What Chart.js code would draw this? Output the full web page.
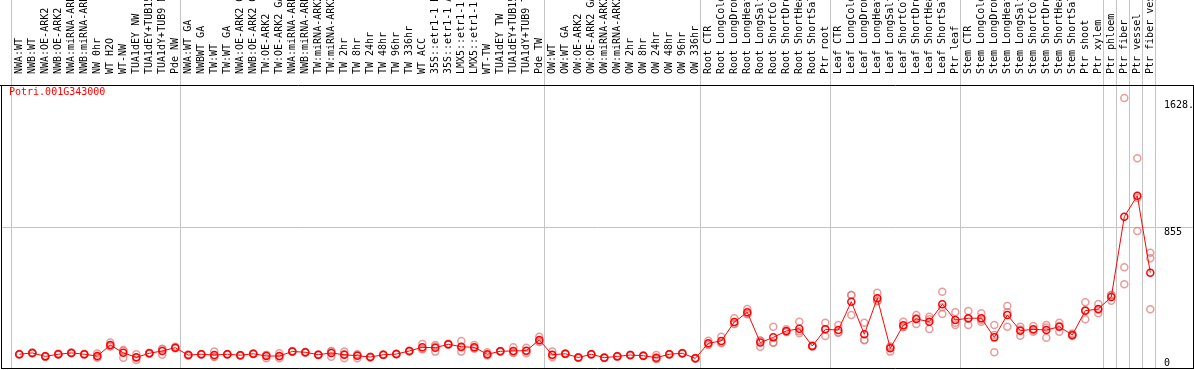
<!DOCTYPE html>
<html><head><meta charset="utf-8">
<script src="https://cdn.jsdelivr.net/npm/chart.js@4.4.1/dist/chart.umd.min.js"></script>
<style>html,body{margin:0;padding:0;background:#fff;overflow:hidden}#wrap{width:1194px;height:370px;position:relative}</style>
</head><body><div id="wrap"><canvas id="c" width="1194" height="370"></canvas></div>
<script>
const categories = [
 'NWA:WT','NWB:WT','NWA:OE-ARK2','NWB:OE-ARK2','NWA:miRNA-ARK2','NWB:miRNA-ARK2','NW 0hr','WT H2O','WT-NW','TUA1dEY NW','TUA1dEY+TUB15 NW','TUA1dY+TUB9 NW','Pde NW',
 'NWA:WT GA','NWBWT GA','TW:WT','TW:WT GA','NWA:OE-ARK2 GA','NWB:OE-ARK2 GA','TW:OE-ARK2','TW:OE-ARK2 GA','NWA:miRNA-ARK2','NWB:miRNA-ARK2','TW:miRNA-ARK2','TW:miRNA-ARK2','TW 2hr','TW 8hr','TW 24hr','TW 48hr','TW 96hr','TW 336hr','WT ACC','35S::etr1-1 H2O','35S::etr1-1 ACC','LMX5::etr1-1 H2O','LMX5::etr1-1 ACC','WT-TW','TUA1dEY TW','TUA1dEY+TUB15 TW','TUA1dY+TUB9 TW','Pde TW',
 'OW:WT','OW:WT GA','OW:OE-ARK2','OW:OE-ARK2 GA','OW:miRNA-ARK2','OW:miRNA-ARK2','OW 2hr','OW 8hr','OW 24hr','OW 48hr','OW 96hr','OW 336hr',
 'Root CTR','Root LongCold','Root LongDrought','Root LongHeat','Root LongSalt','Root ShortCold','Root ShortDrought','Root ShortHeat','Root ShortSalt','Ptr root',
 'Leaf CTR','Leaf LongCold','Leaf LongDrought','Leaf LongHeat','Leaf LongSalt','Leaf ShortCold','Leaf ShortDrought','Leaf ShortHeat','Leaf ShortSalt','Ptr leaf',
 'Stem CTR','Stem LongCold','Stem LongDrought','Stem LongHeat','Stem LongSalt','Stem ShortCold','Stem ShortDrought','Stem ShortHeat','Stem ShortSalt','Ptr shoot','Ptr xylem',
 'Ptr phloem','Ptr fiber','Ptr vessel','Ptr fiber vessel'
];
const groupStarts = [0,13,41,53,63,73,84,85,86,87,88];
const meanValues = [
 84,92,71,84,92,84,73,140,93,65,90,104,124,
 79,84,79,84,78,87,73,73,101,96,81,92,81,75,67,81,85,104,126,124,145,130,126,84,102,104,106,171,
 81,87,64,84,63,71,79,75,63,84,90,59,
 151,165,281,340,155,187,226,240,134,236,
 232,405,206,426,120,261,299,283,389,293,
 304,304,187,324,228,236,232,252,202,350,360,
 434,924,1052,582
];
const rep1 = [
 86,95,74,88,94,86,89,155,106,84,93,117,130,
 82,86,100,86,80,89,80,90,104,98,83,69,100,59,69,83,87,106,147,100,148,165,140,96,104,126,124,191,
 100,89,66,86,65,73,81,77,79,86,92,61,
 167,191,304,360,130,252,236,283,138,277,
 263,324,277,460,100,283,324,313,466,340,
 348,334,263,379,252,256,263,277,210,401,391,
 411,1649,1281,704
];
const rep2 = [
 83,90,70,82,91,83,64,134,63,49,89,81,120,
 78,83,69,83,77,86,59,59,100,95,80,103,59,83,66,80,84,103,116,140,144,100,119,78,101,93,104,163,
 65,86,63,83,62,70,78,74,55,83,89,58,
 145,152,270,332,168,155,222,212,132,195,
 217,445,171,410,130,250,269,238,330,263,
 263,283,96,252,197,222,185,222,200,297,334,
 446,615,837,670
];
const rep3 = [
 83,91,69,82,91,83,66,131,110,62,88,114,122,
 77,83,68,83,77,86,80,70,99,95,80,104,84,83,66,80,84,103,115,132,143,125,119,78,101,93,90,159,
 78,86,63,83,62,70,78,74,55,83,89,58,
 141,152,269,328,167,154,220,225,132,236,
 216,446,170,408,130,250,304,298,371,276,
 301,295,202,341,235,230,248,257,196,352,355,
 445,511,1039,358
];
const yTickValues = [0, 855, 1628];
const yTickLabels = ['0', '855', '1628.'];
const geneId = 'Potri.001G343000';

const MONO = '"DejaVu Sans Mono", "Liberation Mono", monospace';
const RED = '#ff0000';
const PINK = 'rgba(230,120,120,0.75)';
const GREY = '#c4c4c4';

const decor = {
  id: 'decor',
  beforeDatasetsDraw(chart) {
    const {ctx, chartArea: a, scales: {x}} = chart;
    ctx.save();
    ctx.strokeStyle = GREY; ctx.lineWidth = 1;
    groupStarts.forEach(g => {
      const px = Math.round(x.getPixelForValue(g - 0.64)) + 0.5;
      ctx.beginPath(); ctx.moveTo(px, 0); ctx.lineTo(px, a.bottom); ctx.stroke();
    });
    ctx.restore();
  },
  afterDraw(chart) {
    const {ctx, chartArea: a, scales: {y}} = chart;
    ctx.save();
    ctx.strokeStyle = '#000'; ctx.lineWidth = 1;
    ctx.beginPath();
    ctx.moveTo(0, a.top + 0.5); ctx.lineTo(chart.width, a.top + 0.5);
    ctx.moveTo(a.left + 0.5, a.top); ctx.lineTo(a.left + 0.5, a.bottom + 0.5);
    ctx.moveTo(a.left, a.bottom + 0.5); ctx.lineTo(a.right, a.bottom + 0.5);
    ctx.moveTo(a.right - 0.5, a.top); ctx.lineTo(a.right - 0.5, a.bottom + 0.5);
    ctx.stroke();
    ctx.beginPath(); ctx.rect(a.left, a.top, a.right - a.left - 1, a.bottom - a.top); ctx.clip();
    ctx.font = '10px ' + MONO;
    ctx.fillStyle = '#000';
    ctx.textAlign = 'left';
    yTickValues.forEach((v, i) => {
      const py = y.getPixelForValue(v);
      if (v === 0) { ctx.textBaseline = 'alphabetic'; ctx.fillText(yTickLabels[i], 1164, py - 2); }
      else { ctx.textBaseline = 'top'; ctx.fillText(yTickLabels[i], 1164, py - 1); }
    });
    ctx.fillStyle = RED;
    ctx.textBaseline = 'top';
    ctx.fillText(geneId, 9, a.top + 2);
    ctx.restore();
  }
};

const pts = arr => arr.map((v, i) => ({x: i, y: v}));
const repDs = arr => ({
  type: 'scatter', data: pts(arr), showLine: false, order: 2,
  pointRadius: 3.5, pointBorderWidth: 1.5, pointBorderColor: PINK, pointBackgroundColor: 'rgba(0,0,0,0)'
});

new Chart(document.getElementById('c'), {
  type: 'line',
  data: {
    datasets: [
      {data: pts(meanValues), order: 0, borderColor: RED, borderWidth: 1, pointRadius: 3.5, pointBorderWidth: 1.5,
       pointBorderColor: RED, pointBackgroundColor: 'rgba(0,0,0,0)', tension: 0},
      repDs(rep1), repDs(rep2), repDs(rep3)
    ]
  },
  options: {
    responsive: false, animation: false, devicePixelRatio: 1,
    layout: {autoPadding: false, padding: {left: 1, right: 0, top: 0, bottom: 2}},
    plugins: {legend: {display: false}, tooltip: {enabled: false}},
    scales: {
      x: {
        type: 'linear', position: 'top', min: -1.4077, max: 90.361,
        afterBuildTicks: s => { s.ticks = categories.map((c, i) => ({value: i})); },
        afterFit: s => { s.height = 85; s.paddingLeft = 0; s.paddingRight = 0; },
        grid: {display: false}, border: {display: false},
        ticks: {autoSkip: false, minRotation: 90, maxRotation: 90, padding: 3, labelOffset: 12, color: '#000',
          font: {family: MONO, size: 10}, callback: v => categories[v]}
      },
      y: {
        type: 'linear', position: 'right', min: 0, max: 1728,
        afterBuildTicks: s => { s.ticks = yTickValues.map(v => ({value: v})); },
        afterFit: s => { s.width = 0; s.paddingTop = 0; s.paddingBottom = 0; },
        ticks: {display: false},
        border: {display: false},
        grid: {drawTicks: false, lineWidth: 1, color: c => (c.tick && c.tick.value === 855) ? GREY : 'rgba(0,0,0,0)'}
      }
    }
  },
  plugins: [decor]
});
</script>
</body></html>
